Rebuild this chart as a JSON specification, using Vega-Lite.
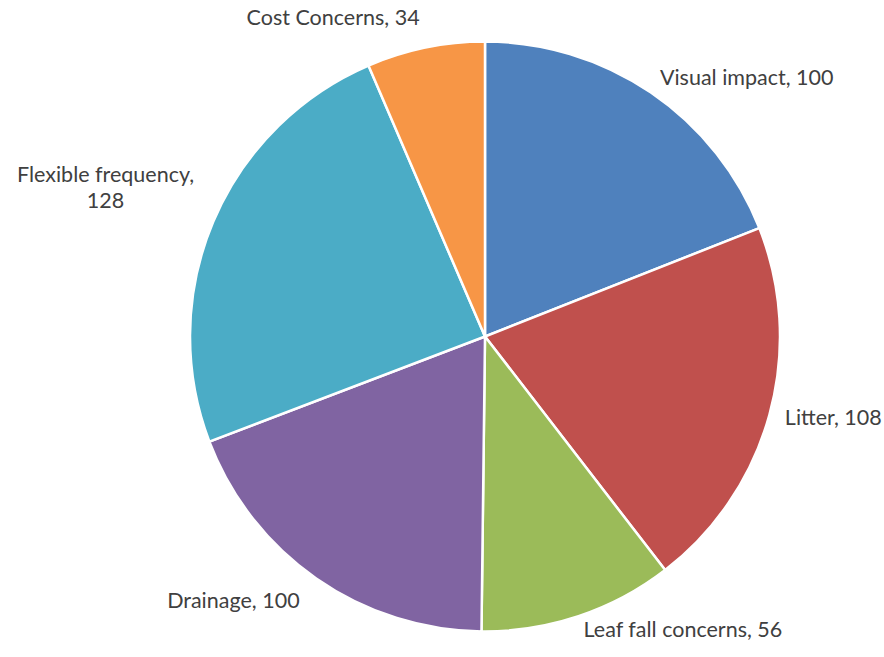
{
  "$schema": "https://vega.github.io/schema/vega-lite/v6.json",
  "width": 798,
  "height": 641,
  "padding": {"left": 86, "top": 16, "right": 0, "bottom": 0},
  "autosize": {"type": "none"},
  "background": "white",
  "view": {"stroke": null},
  "data": {
    "values": [
      {"idx": 1, "category": "Visual impact", "value": 100},
      {"idx": 2, "category": "Litter", "value": 108},
      {"idx": 3, "category": "Leaf fall concerns", "value": 56},
      {"idx": 4, "category": "Drainage", "value": 100},
      {"idx": 5, "category": "Flexible frequency", "value": 128},
      {"idx": 6, "category": "Cost Concerns", "value": 34}
    ]
  },
  "transform": [
    {"calculate": "datum.idx == 5 ? datum.category + ',\\n' + datum.value : datum.category + ', ' + datum.value", "as": "label"}
  ],
  "encoding": {
    "theta": {"field": "value", "type": "quantitative", "stack": true},
    "order": {"field": "idx", "type": "quantitative"}
  },
  "layer": [
    {
      "mark": {"type": "arc", "outerRadius": 295, "stroke": "white", "strokeWidth": 2.5},
      "encoding": {
        "color": {
          "field": "category",
          "type": "nominal",
          "sort": null,
          "scale": {
            "domain": ["Visual impact", "Litter", "Leaf fall concerns", "Drainage", "Flexible frequency", "Cost Concerns"],
            "range": ["#4F81BD", "#C0504D", "#9BBB59", "#8064A2", "#4BACC6", "#F79646"]
          },
          "legend": null
        }
      }
    },
    {
      "mark": {"type": "text", "radius": 311, "align": "left", "baseline": "middle", "font": "Lato", "fontSize": 21.5, "fill": "#404040"},
      "encoding": {
        "detail": {"field": "category"},
        "text": {"condition": {"test": "datum.idx <= 3", "field": "label"}, "value": ""}
      }
    },
    {
      "mark": {"type": "text", "radius": 324, "align": "right", "baseline": "middle", "font": "Lato", "fontSize": 21.5, "fill": "#404040"},
      "encoding": {
        "detail": {"field": "category"},
        "text": {"condition": {"test": "datum.idx == 4 || datum.idx == 6", "field": "label"}, "value": ""}
      }
    },
    {
      "mark": {"type": "text", "radius": 412, "align": "center", "baseline": "middle", "lineBreak": "\n", "lineHeight": 26, "font": "Lato", "fontSize": 21.5, "fill": "#404040"},
      "encoding": {
        "detail": {"field": "category"},
        "text": {"condition": {"test": "datum.idx == 5", "field": "label"}, "value": ""}
      }
    }
  ]
}
